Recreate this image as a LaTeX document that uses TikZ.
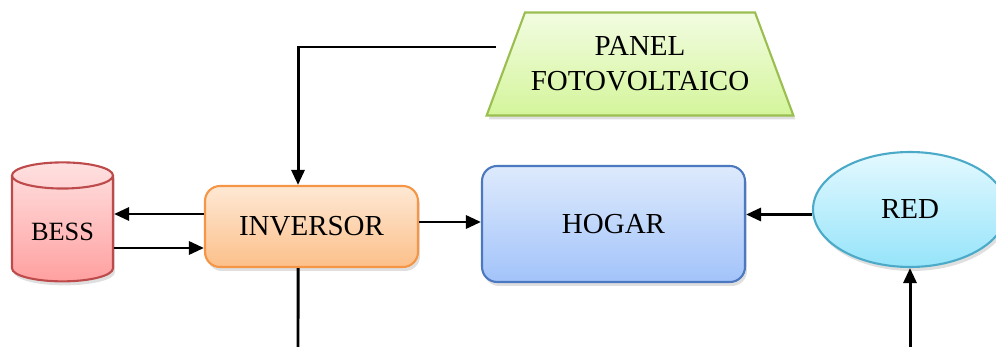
\documentclass[tikz,border=0pt]{standalone}
\usepackage{fontspec}
\setmainfont{Liberation Serif}
\usetikzlibrary{arrows.meta,shapes.geometric,shadows}

\definecolor{pvline}{RGB}{155,190,80}
\definecolor{pvtop}{RGB}{242,252,225}
\definecolor{pvbot}{RGB}{212,245,155}
\definecolor{invline}{RGB}{245,150,70}
\definecolor{invtop}{RGB}{254,232,212}
\definecolor{invbot}{RGB}{252,192,138}
\definecolor{bessline}{RGB}{190,75,75}
\definecolor{besstop}{RGB}{255,225,225}
\definecolor{bessbot}{RGB}{255,160,160}
\definecolor{homeline}{RGB}{75,120,190}
\definecolor{hometop}{RGB}{222,234,252}
\definecolor{homebot}{RGB}{162,195,250}
\definecolor{redline}{RGB}{75,170,200}
\definecolor{redtop}{RGB}{228,249,255}
\definecolor{redbot}{RGB}{150,228,250}

\tikzset{
  box/.style={draw, line width=1.2pt, rounded corners=0.3cm, font=\fontsize{16.5}{20}\selectfont,
    drop shadow={shadow xshift=0.04cm, shadow yshift=-0.08cm, opacity=0.25}},
  conn/.style={line width=1.7pt, -{Triangle[length=3mm,width=2.6mm]}},
  wire/.style={line width=1.7pt}
}

\begin{document}
\begin{tikzpicture}[x=0.02cm, y=-0.02cm]

    \useasboundingbox (0,0) rectangle (996,347);

    \node[box, trapezium, trapezium stretches=true, rounded corners=0pt, draw=pvline,
          top color=pvtop, bottom color=pvbot, minimum width=6.12cm, minimum height=2.06cm,
          align=center] (panel) at (640,64) {PANEL\\FOTOVOLTAICO};

    \node[box, draw=invline, top color=invtop, bottom color=invbot,
          minimum width=4.26cm, minimum height=1.62cm] (inv) at (311.5,226.5) {INVERSOR};

    \node[box, cylinder, shape border rotate=90, aspect=0.35, rounded corners=0pt,
          draw=bessline, top color=besstop, bottom color=bessbot,
          minimum width=2.02cm, minimum height=2.38cm, font=\fontsize{15}{18}\selectfont]
          (bess) at (62.5,232) {BESS};

    \node[box, draw=homeline, top color=hometop, bottom color=homebot,
          minimum width=5.26cm, minimum height=2.32cm] (home) at (613.5,224) {\raisebox{-0.06cm}{HOGAR}};

    \node[box, ellipse, rounded corners=0pt, draw=redline, top color=redtop, bottom color=redbot,
          minimum width=3.88cm, minimum height=2.3cm] (red) at (910,209.5) {RED};

    % connections
    \coordinate (pvin) at (496,47);
    \coordinate (invdown) at (298,347);
    \coordinate (redup) at (910,347);

    \draw[conn] (pvin) -| ([xshift=-0.27cm]inv.north);
    \draw[wire] ([xshift=-0.27cm]inv.south) -- (invdown);
    \draw[conn] ([yshift=0.25cm]inv.west) -- ([yshift=0.25cm]inv.west -| bess.east);
    \draw[conn] ([yshift=-0.43cm]inv.west -| bess.east) -- ([yshift=-0.43cm]inv.west);
    \draw[conn] ([yshift=0.09cm]inv.east) -- ([yshift=0.09cm]inv.east -| home.west);
    \draw[conn] ([yshift=-0.1cm]red.west) -- ([yshift=-0.1cm]red.west -| home.east);
    \draw[conn] (redup) -- (red.south);

\end{tikzpicture}
\end{document}
